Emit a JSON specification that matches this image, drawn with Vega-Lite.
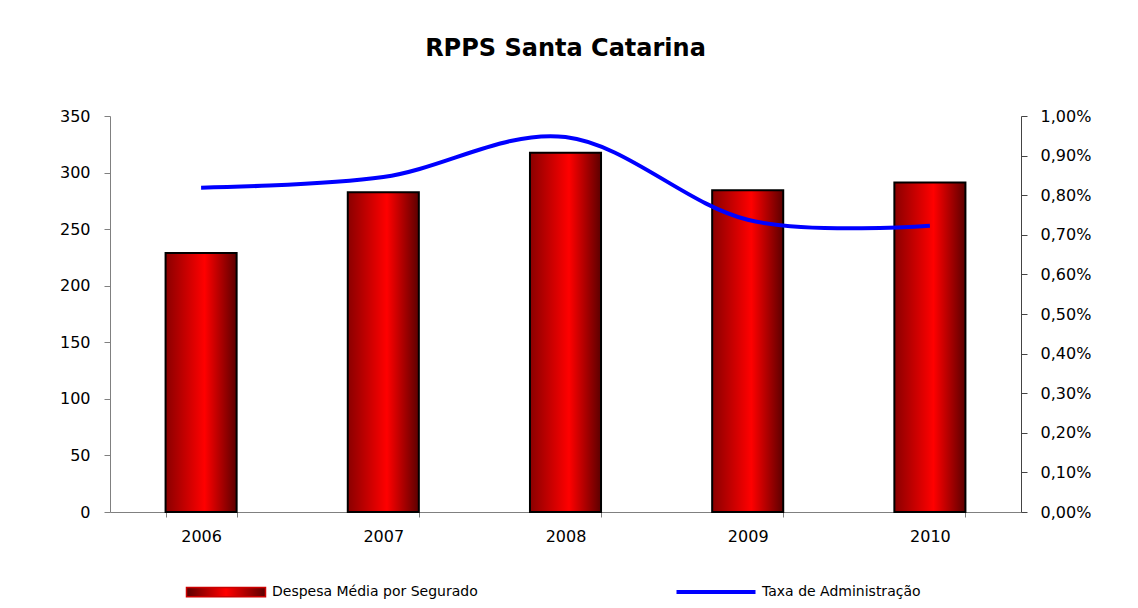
{
  "$schema": "https://vega.github.io/schema/vega-lite/v6.json",
  "width": 911,
  "height": 396,
  "autosize": "none",
  "padding": {"left": 110, "top": 116, "right": 117, "bottom": 96},
  "background": "white",
  "title": {
    "text": "RPPS Santa Catarina",
    "font": "DejaVu Sans",
    "fontSize": 24,
    "fontWeight": "bold",
    "color": "black",
    "anchor": "middle",
    "offset": 47
  },
  "data": {
    "values": [
      {"ano": "2006", "despesa": 229, "taxa": 0.819},
      {"ano": "2007", "despesa": 282.5, "taxa": 0.846},
      {"ano": "2008", "despesa": 317.5, "taxa": 0.947},
      {"ano": "2009", "despesa": 284.3, "taxa": 0.738},
      {"ano": "2010", "despesa": 291.3, "taxa": 0.723}
    ]
  },
  "encoding": {
    "x": {
      "field": "ano",
      "type": "ordinal",
      "scale": {"paddingInner": 0.61, "paddingOuter": 0.305},
      "axis": {
        "title": null,
        "labelAngle": 0,
        "labelFont": "DejaVu Sans",
        "labelFontSize": 16,
        "labelColor": "black",
        "labelPadding": 11,
        "tickBand": "extent",
        "tickSize": 5,
        "tickColor": "#808080",
        "domainColor": "#808080",
        "grid": false
      }
    }
  },
  "layer": [
    {
      "mark": {
        "type": "bar",
        "color": {
          "gradient": "linear",
          "x1": 0, "y1": 0, "x2": 1, "y2": 0,
          "stops": [
            {"offset": 0, "color": "#8a0000"},
            {"offset": 0.55, "color": "#ff0000"},
            {"offset": 1, "color": "#5c0000"}
          ]
        },
        "stroke": "black",
        "strokeWidth": 2
      },
      "encoding": {
        "y": {
          "field": "despesa",
          "type": "quantitative",
          "scale": {"domain": [0, 350]},
          "axis": {
            "title": null,
            "values": [0, 50, 100, 150, 200, 250, 300, 350],
            "labelFont": "DejaVu Sans",
            "labelFontSize": 16,
            "labelColor": "black",
            "tickSize": 6,
            "labelPadding": 14,
            "tickColor": "#808080",
            "domainColor": "#808080",
            "grid": false
          }
        }
      }
    },
    {
      "mark": {"type": "line", "strokeWidth": 4, "interpolate": "cardinal"},
      "encoding": {
        "y": {
          "field": "taxa",
          "type": "quantitative",
          "scale": {"domain": [0, 1]},
          "axis": {
            "orient": "right",
            "title": null,
            "values": [0, 0.1, 0.2, 0.3, 0.4, 0.5, 0.6, 0.7, 0.8, 0.9, 1],
            "labelExpr": "replace(format(datum.value, '.2f'), '.', ',') + '%'",
            "labelFont": "DejaVu Sans",
            "labelFontSize": 16,
            "labelColor": "black",
            "tickSize": 6,
            "labelPadding": 13,
            "tickColor": "#444444",
            "domainColor": "#444444",
            "grid": false
          }
        },
        "color": {
          "datum": "Taxa de Administração",
          "scale": {
            "domain": ["Despesa Média por Segurado", "Taxa de Administração"],
            "range": ["#cc0000", "#0000ff"]
          },
          "legend": {
            "orient": "none",
            "legendX": 109,
            "legendY": 469,
            "direction": "horizontal",
            "title": null,
            "labelFont": "DejaVu Sans",
            "labelFontSize": 14,
            "labelColor": "black",
            "labelLimit": 500,
            "labelOffset": 39,
            "symbolSize": 6241,
            "columnPadding": 190,
            "encode": {
              "symbols": {
                "update": {
                  "shape": {"signal": "datum.value === 'Taxa de Administração' ? 'M-1,0H1' : 'M-1,-0.12H1V0.12H-1Z'"},
                  "fill": {"signal": "datum.value === 'Taxa de Administração' ? 'transparent' : {gradient: 'linear', x1: 0, y1: 0, x2: 1, y2: 0, stops: [{offset: 0, color: '#5c0000'}, {offset: 0.5, color: '#ff0000'}, {offset: 1, color: '#5c0000'}]}"},
                  "stroke": {"signal": "datum.value === 'Taxa de Administração' ? '#0000ff' : 'black'"},
                  "strokeWidth": {"signal": "datum.value === 'Taxa de Administração' ? 4 : 1.5"},
                  "opacity": {"value": 1}
                }
              }
            }
          }
        }
      }
    }
  ],
  "resolve": {"scale": {"y": "independent"}},
  "config": {
    "font": "DejaVu Sans",
    "view": {"stroke": null}
  }
}
